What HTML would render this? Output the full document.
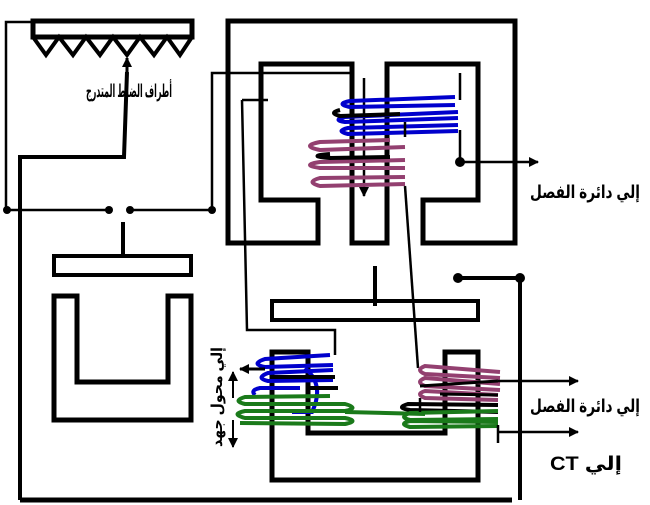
<!DOCTYPE html>
<html><head><meta charset="utf-8"><style>
html,body{margin:0;padding:0;background:#fff;}
svg{display:block}
text{font-family:"Liberation Sans","DejaVu Sans",sans-serif;font-weight:bold;}
</style></head><body>
<svg width="650" height="505" viewBox="0 0 650 505" xmlns="http://www.w3.org/2000/svg">
<defs>
<marker id="ah" markerWidth="10" markerHeight="10" refX="9" refY="5" orient="auto" markerUnits="userSpaceOnUse"><path d="M0,0 L10,5 L0,10 Z" fill="#000"/></marker>
</defs>
<g fill="none" stroke="#000">
<rect x="33" y="21" width="159" height="16" stroke-width="5"/>
<path d="M33,37 L46,55 L59,37 L73,55 L86,37 L100,55 L113,37 L127,55 L140,37 L154,55 L167,37 L180,55 L192,37" stroke-width="4"/>
<path d="M33,22 L6,22 L6,210" stroke-width="2.5"/>
<path d="M20,500 L20,157 L124,157 L127,72" stroke-width="4"/>
<path d="M127,74 L127,58" stroke-width="3" marker-end="url(#ah)"/>
<path d="M6,210 L110,210 M130,210 L212,210 L212,73 L352,73" stroke-width="2.5"/>
<path d="M228,21 L515,21 L515,243 L423,243 L423,200 L478,200 L478,64 L387,64 L387,243 L352,243 L352,64 L261,64 L261,200 L318,200 L318,243 L228,243 Z" stroke-width="5"/>
<path d="M364,78 L364,196" stroke-width="2.5" marker-end="url(#ah)"/>
<path d="M460,73 L460,100 M460,130 L460,162" stroke-width="2.5"/>
<path d="M460,162 L538,162" stroke-width="2.5" marker-end="url(#ah)"/>
<path d="M242,100 L268,100 M242,100 L247,330 L335,330 L335,355" stroke-width="2.5"/>
<path d="M405,186 L418,368" stroke-width="2.5"/>
<rect x="272" y="301" width="206" height="19" stroke-width="4"/>
<path d="M375,266 L375,306" stroke-width="4"/>
<path d="M458,278 L520,278 L520,500" stroke-width="4"/>
<path d="M272,352 L308,352 L308,433 L445,433 L445,352 L478,352 L478,480 L272,480 Z" stroke-width="5"/>
<path d="M20,500 L512,500" stroke-width="5"/>
<rect x="54" y="256" width="137" height="19" stroke-width="4"/>
<path d="M123,222 L123,258" stroke-width="4"/>
<path d="M54,296 L77,296 L77,382 L168,382 L168,296 L191,296 L191,420 L54,420 Z" stroke-width="5"/>
<g stroke="#00c" stroke-width="4">
<path d="M455,97 L350,101 Q335,104 350,107 L455,105"/>
<path d="M458,112 L345,117 Q332,120 345,122 L458,118"/>
<path d="M458,125 L348,128 Q335,131 348,134 L458,131"/>
</g>
<path d="M340,110 Q328,113 340,116 L400,114" stroke="#000" stroke-width="4"/>
<path d="M405,122 L405,137" stroke="#000" stroke-width="2.5"/>
<g stroke="#934070" stroke-width="4">
<path d="M390,140 L320,142 Q300,146 320,150 L405,147"/>
<path d="M405,160 L320,162 Q300,165 320,168 L405,168"/>
<path d="M405,177 L320,178 Q305,182 320,186 L405,184"/>
</g>
<path d="M330,154 Q305,156 330,158 L390,157" stroke="#000" stroke-width="4"/>
<g stroke="#00c" stroke-width="4">
<path d="M330,355 L265,359 Q250,364 265,367 L333,365"/>
<path d="M333,370 L268,373 Q255,378 268,381 L333,380"/>
<path d="M305,368 Q325,385 312,412 L292,412"/>
<path d="M255,395 Q250,390 260,388 L300,388"/>
</g>
<path d="M335,377 L270,377 M338,388 L310,388" stroke="#000" stroke-width="4"/>
<g stroke="#1a7a1a" stroke-width="4">
<path d="M330,396 L245,397 Q232,401 245,404 L345,404 Q360,408 345,411 L245,411 Q230,414 245,418 L345,418 Q360,421 345,424 L240,423"/>
<path d="M345,412 L425,414"/>
</g>
<g stroke="#934070" stroke-width="4">
<path d="M500,372 L425,366 Q415,370 425,374 L500,378"/>
<path d="M500,384 L425,378 Q415,382 425,386 L500,390"/>
<path d="M498,395 L425,391 Q415,394 425,398 L498,400"/>
</g>
<path d="M498,381 L420,386 M498,395 L440,394" stroke="#000" stroke-width="3"/>
<path d="M498,405 L408,404 Q395,408 410,410 L498,412" stroke="#000" stroke-width="4"/>
<g stroke="#1a7a1a" stroke-width="4">
<path d="M498,411 L410,413 Q398,417 410,420 L498,419"/>
<path d="M498,422 L410,421 Q398,424 410,427 L498,426"/>
</g>
<path d="M498,381 L578,381" stroke-width="2.5" marker-end="url(#ah)"/>
<path d="M498,432 L578,432" stroke-width="2.5" marker-end="url(#ah)"/>
<path d="M498,425 L498,443" stroke-width="2.5"/>
<path d="M420,398 L420,412" stroke-width="2.5"/>
<path d="M233,398 L233,372" stroke-width="2" marker-end="url(#ah)"/>
<path d="M233,420 L233,447" stroke-width="2" marker-end="url(#ah)"/>
<path d="M265,369 L240,369" stroke-width="3" marker-end="url(#ah)"/>
</g>
<g fill="#000">
<circle cx="7" cy="210" r="4"/><circle cx="109" cy="210" r="4"/><circle cx="130" cy="210" r="4"/><circle cx="212" cy="210" r="4"/>
<circle cx="460" cy="162" r="5"/><circle cx="458" cy="278" r="5"/><circle cx="520" cy="278" r="5"/>
</g>
<text x="172" y="97" font-size="18" direction="rtl" textLength="86" lengthAdjust="spacingAndGlyphs">أطراف الضبط المتدرج</text>
<text x="640" y="198" font-size="18" direction="rtl" textLength="110" lengthAdjust="spacingAndGlyphs">إلي دائرة الفصل</text>
<text x="640" y="412" font-size="18" direction="rtl" textLength="110" lengthAdjust="spacingAndGlyphs">إلي دائرة الفصل</text>
<text x="622" y="470" font-size="19" direction="rtl" textLength="72" lengthAdjust="spacingAndGlyphs" font-weight="normal">إلي CT</text>
<text transform="translate(222,397) rotate(-90)" font-size="15" text-anchor="middle" textLength="100" lengthAdjust="spacingAndGlyphs">إلي محول جهد</text>
</svg>
</body></html>
